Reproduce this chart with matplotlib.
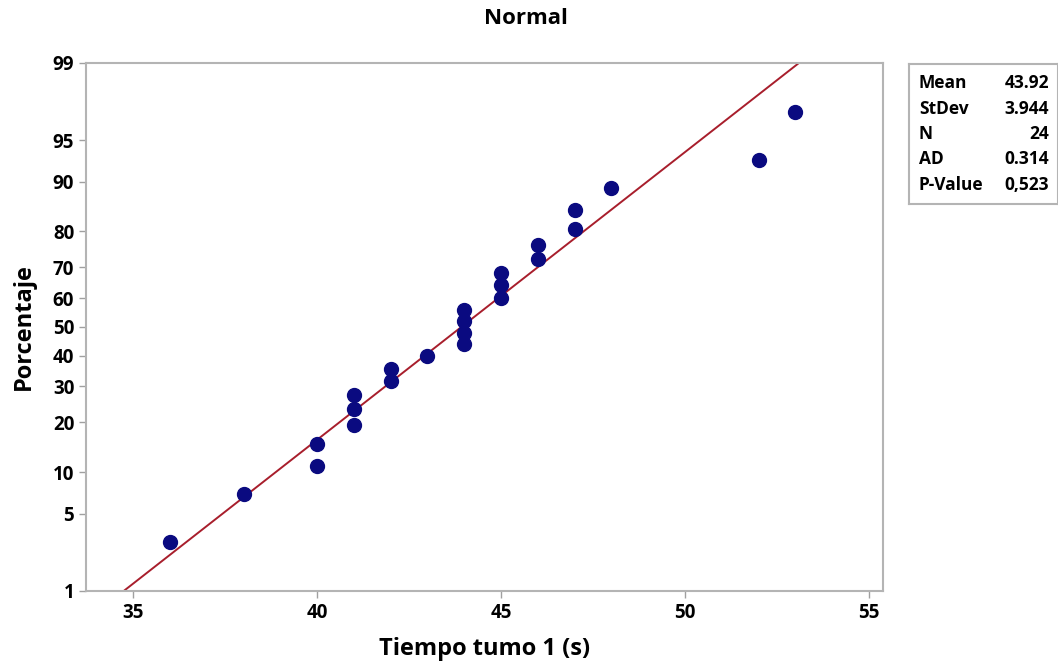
from statistics import NormalDist
import numpy as np
from matplotlib import pyplot as plt

# observed times (s) and their plotted percentages
tiempo = [36, 38, 40, 40, 41, 41, 41, 42, 42, 43, 44, 44, 44, 44,
          45, 45, 45, 46, 46, 47, 47, 48, 52, 53]
porcentaje = [2.9, 7.0, 11.1, 15.2, 19.3, 23.4, 27.5, 31.6, 35.7, 39.8,
              43.9, 48.0, 52.0, 56.1, 60.2, 64.3, 68.4, 72.5, 76.6, 80.7,
              84.8, 88.9, 93.0, 97.1]

media = 43.92
desv = 3.944
stat_labels = ['Mean', 'StDev', 'N', 'AD', 'P-Value']
stat_values = ['43.92', '3.944', '24', '0.314', '0,523']

y_ticks = [1, 5, 10, 20, 30, 40, 50, 60, 70, 80, 90, 95, 99]
x_ticks = [35, 40, 45, 50, 55]

nd = NormalDist()


def z(p):
    return nd.inv_cdf(p / 100.0)


plt.rcParams['font.family'] = ['Open Sans', 'DejaVu Sans']
plt.rcParams['font.weight'] = 'bold'

fig = plt.figure(figsize=(10.58, 6.68), dpi=100)
ax = fig.add_axes([0.0813, 0.1153, 0.7533, 0.7904])

# fitted line between 1% and 99%
zl = np.array([z(1), z(99)])
ax.plot(media + zl * desv, zl, color='#a81e2c', lw=1.4, zorder=2)

ax.plot(tiempo, [z(p) for p in porcentaje], 'o', color='#0a0a80',
        ms=10, zorder=3)

ax.set_xlim(33.72, 55.38)
ax.set_ylim(z(1), z(99))
ax.set_xticks(x_ticks)
ax.set_yticks([z(p) for p in y_ticks])
ax.set_yticklabels([str(p) for p in y_ticks])
ax.tick_params(labelsize=13.5, color='#a0a0a0', length=5, width=1)
for s in ax.spines.values():
    s.set_color('#b4b4b4')
    s.set_linewidth(1.5)

ax.set_xlabel('Tiempo tumo 1 (s)', fontsize=17, fontweight='bold', labelpad=10)
ax.set_ylabel('Porcentaje', fontsize=17, fontweight='bold', labelpad=12)
fig.text(0.497, 0.972, 'Normal', ha='center', va='center',
         fontsize=16, fontweight='bold')

# stats box
bx = fig.add_axes([909 / 1058, (668 - 204) / 668, 149 / 1058, 140 / 668])
bx.set_xticks([])
bx.set_yticks([])
for s in bx.spines.values():
    s.set_color('#b4b4b4')
    s.set_linewidth(1.5)
bx.set_xlim(0, 149)
bx.set_ylim(140, 0)
for i, (lab, val) in enumerate(zip(stat_labels, stat_values)):
    yy = 19 + i * 25.5
    bx.text(10, yy, lab, fontsize=12.5, fontweight='bold', va='center')
    bx.text(140, yy, val, fontsize=12.5, fontweight='bold', va='center', ha='right')

fig.savefig('out.png', dpi=100)
